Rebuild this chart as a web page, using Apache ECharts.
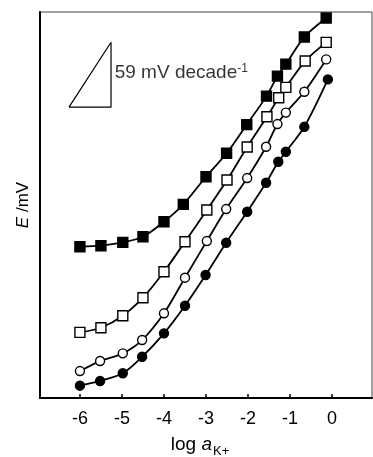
<!DOCTYPE html>
<html>
<head>
<meta charset="utf-8">
<script src="https://cdn.jsdelivr.net/npm/echarts@6/dist/echarts.min.js"></script>
<style>
  html, body { margin: 0; padding: 0; background: #fff; }
  #chart { width: 373px; height: 457px; }
</style>
</head>
<body>
<div id="chart"></div>
<script>
// log a(K+) values and potentials (mV, arbitrary offset)
const sqFilledX = [-6.0, -5.5, -4.98, -4.5, -4.0, -3.54, -3.0, -2.51, -2.03, -1.56, -1.30, -1.10, -0.66, -0.14];
const sqFilledY = [137.5, 138.5, 141.5, 146.6, 160.3, 176.1, 201.2, 222.5, 248.6, 274.5, 292.7, 303.6, 328.2, 345.5];

const sqOpenX = [-6.0, -5.5, -4.98, -4.5, -4.0, -3.5, -2.98, -2.5, -2.02, -1.55, -1.27, -1.10, -0.64, -0.14];
const sqOpenY = [59.7, 63.9, 74.8, 91.2, 114.8, 142.1, 170.9, 198.2, 228.2, 255.7, 273.0, 282.5, 306.4, 323.4];

const circOpenX = [-6.0, -5.52, -4.98, -4.52, -4.0, -3.5, -2.98, -2.52, -2.02, -1.57, -1.30, -1.10, -0.66, -0.14];
const circOpenY = [24.5, 33.6, 40.6, 52.7, 77.0, 109.4, 142.7, 171.8, 200.0, 228.5, 249.1, 259.5, 278.5, 307.9];

const circFilledX = [-6.0, -5.52, -4.98, -4.52, -4.0, -3.5, -3.01, -2.52, -2.02, -1.57, -1.28, -1.10, -0.66, -0.1];
const circFilledY = [11.2, 15.5, 22.5, 37.5, 58.8, 83.9, 111.8, 141.2, 169.4, 195.7, 214.8, 223.9, 246.6, 289.7];

const xTickValues = [-6, -5, -4, -3, -2, -1, 0];

// Nernstian slope reference triangle (1 decade wide, 59 mV high)
const triX = [-6.26, -5.26, -5.26, -6.26];
const triY = [264.5, 323.5, 264.5, 264.5];

const zip = (xs, ys) => xs.map((x, i) => [x, ys[i]]);

const chart = echarts.init(document.getElementById('chart'));

const font = 'Liberation Sans, Arial, Helvetica, sans-serif';

function dataSeries(name, xs, ys, symbol, filled, size) {
  return {
    name: name,
    type: 'line',
    data: zip(xs, ys),
    smooth: 0.3,
    symbol: symbol,
    symbolSize: size,
    showAllSymbol: true,
    lineStyle: { color: '#000', width: 1.8 },
    itemStyle: {
      color: filled ? '#000' : '#fff',
      borderColor: '#000',
      borderWidth: 1.4
    },
    z: 3
  };
}

chart.setOption({
  animation: false,
  backgroundColor: '#fff',
  textStyle: { fontFamily: font, color: '#000' },
  grid: {
    left: 40, right: 1, top: 12, bottom: 59,
    outerBoundsMode: 'none',
    containLabel: false,
    show: true,
    borderColor: '#444',
    borderWidth: 1
  },
  xAxis: {
    type: 'value',
    min: -6.95,
    max: 0.95,
    name: 'log {i|a}{sub|K+}',
    nameLocation: 'middle',
    nameGap: 37,
    nameTextStyle: {
      fontSize: 19,
      color: '#000',
      fontFamily: font,
      padding: [0, 12, 0, 0],
      rich: {
        i: { fontStyle: 'italic', fontSize: 19, fontFamily: font, color: '#000' },
        sub: { fontSize: 13, fontFamily: font, color: '#000', verticalAlign: 'bottom', padding: [0, 0, -4, 1] }
      }
    },
    axisLine: { onZero: false, lineStyle: { color: '#000', width: 2 } },
    axisTick: { inside: true, length: 4, customValues: xTickValues, lineStyle: { color: '#000', width: 1.5 } },
    axisLabel: {
      fontSize: 18,
      color: '#000',
      margin: 12,
      customValues: xTickValues,
      formatter: v => String(v)
    },
    splitLine: { show: false }
  },
  yAxis: {
    type: 'value',
    min: 0,
    max: 351,
    name: '{i|E} /mV',
    nameLocation: 'middle',
    nameGap: 8,
    nameTextStyle: {
      fontSize: 17,
      color: '#000',
      padding: [0, 0, 0, 0],
      rich: {
        i: { fontStyle: 'italic', fontSize: 17, fontFamily: font, color: '#000' }
      }
    },
    axisLine: { show: true, onZero: false, lineStyle: { color: '#000', width: 2 } },
    axisTick: { show: false },
    axisLabel: { show: false },
    splitLine: { show: false }
  },
  series: [
    dataSeries('filled squares', sqFilledX, sqFilledY, 'rect', true, 10),
    dataSeries('open squares', sqOpenX, sqOpenY, 'rect', false, 10),
    dataSeries('open circles', circOpenX, circOpenY, 'circle', false, 9),
    dataSeries('filled circles', circFilledX, circFilledY, 'circle', true, 9),
    {
      name: 'slope',
      type: 'line',
      data: zip(triX, triY),
      symbol: 'none',
      lineStyle: { color: '#000', width: 1.2 },
      silent: true
    },
    {
      name: 'slope label',
      type: 'scatter',
      data: [[-5.22, 296]],
      symbolSize: 0,
      silent: true,
      label: {
        show: true,
        position: 'right',
        distance: 2,
        formatter: '59 mV decade{sup|-1}',
        fontSize: 19,
        color: '#000',
        fontFamily: font,
        rich: {
          sup: { fontSize: 12, fontFamily: font, color: '#000', verticalAlign: 'top', padding: [0, 0, 8, 0] }
        }
      }
    }
  ]
});
</script>
</body>
</html>
